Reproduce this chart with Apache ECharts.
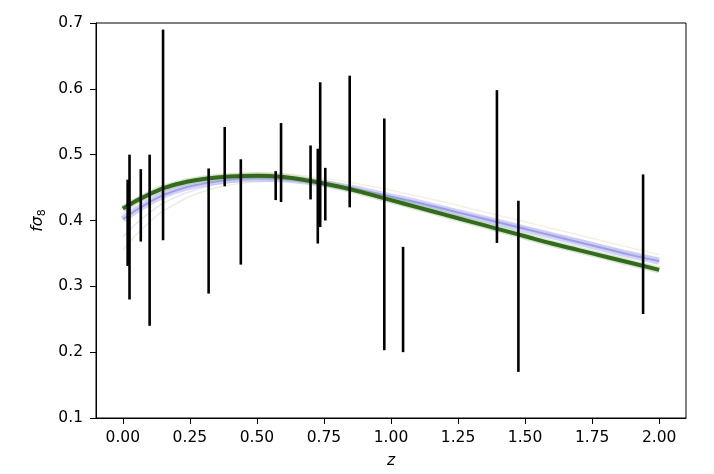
<!DOCTYPE html>
<html>
<head>
<meta charset="utf-8">
<script src="https://cdn.jsdelivr.net/npm/echarts@6/dist/echarts.min.js"></script>
<style>html,body{margin:0;padding:0;background:#fff}#c{width:714px;height:474px}</style>
</head>
<body>
<div id="c"></div>
<script>
// model curves sampled on a z grid
const zGrid = [0,0.1,0.2,0.3,0.4,0.5,0.6,0.7,0.8,0.9,1.0,1.1,1.2,1.3,1.4,1.5,1.6,1.7,1.8,1.9,2.0];
const fsGreen = [0.418,0.440,0.455,0.463,0.467,0.468,0.466,0.460,0.452,0.442,0.431,0.420,0.409,0.398,0.387,0.376,0.365,0.355,0.345,0.335,0.325];
const fsBlue = [0.402,0.428,0.446,0.456,0.462,0.464,0.463,0.459,0.453,0.445,0.436,0.427,0.417,0.407,0.397,0.387,0.377,0.367,0.357,0.347,0.338];
const fsFaintLow1 = [0.355,0.398,0.426,0.444,0.454,0.459,0.460,0.457,0.452,0.445,0.437,0.428,0.419,0.409,0.400,0.390,0.380,0.371,0.361,0.352,0.343];
const fsFaintLow2 = [0.375,0.412,0.436,0.450,0.458,0.462,0.462,0.459,0.453,0.446,0.437,0.428,0.418,0.408,0.398,0.388,0.378,0.368,0.358,0.349,0.340];
const fsFaintUp = [0.410,0.437,0.455,0.465,0.470,0.472,0.471,0.467,0.461,0.454,0.446,0.437,0.428,0.418,0.408,0.398,0.388,0.378,0.368,0.358,0.348];

// observations (error bars)
const zObs = [0.018,0.025,0.067,0.10,0.15,0.32,0.38,0.44,0.57,0.59,0.70,0.727,0.736,0.755,0.846,0.975,1.045,1.395,1.475,1.94];
const fsLo = [0.331,0.280,0.368,0.240,0.370,0.289,0.452,0.333,0.431,0.428,0.432,0.365,0.390,0.400,0.420,0.203,0.200,0.366,0.170,0.258];
const fsHi = [0.462,0.500,0.478,0.500,0.690,0.479,0.542,0.493,0.475,0.548,0.514,0.509,0.610,0.480,0.620,0.555,0.360,0.598,0.430,0.470];

const xTicks = [0,0.25,0.5,0.75,1.0,1.25,1.5,1.75,2.0];

const pair = arr => zGrid.map((z,i)=>[z,arr[i]]);
const curve = (arr,color,width,op) => ({
  type:'line', data:pair(arr), smooth:true, symbol:'none', silent:true,
  lineStyle:{color:color,width:width,opacity:op}, z:2
});

const FS = 15.5;
const chart = echarts.init(document.getElementById('c'), null, {renderer:'canvas'});
chart.setOption({
  animation:false,
  backgroundColor:'#fff',
  textStyle:{fontFamily:'DejaVu Sans'},
  grid:{left:96,right:28,top:23,bottom:56,show:true,borderColor:'#000',borderWidth:1,backgroundColor:'transparent'},
  xAxis:{
    type:'value', min:-0.1, max:2.1,
    name:'z', nameLocation:'middle', nameGap:35,
    nameTextStyle:{fontSize:FS,fontStyle:'italic',color:'#000',fontFamily:'DejaVu Sans'},
    axisLine:{show:true,onZero:false,lineStyle:{color:'#000',width:1}},
    axisTick:{show:true,inside:false,length:6,lineStyle:{color:'#000'},customValues:xTicks},
    axisLabel:{color:'#000',fontSize:FS,margin:12,customValues:xTicks,formatter:v=>v.toFixed(2)},
    splitLine:{show:false}
  },
  yAxis:{
    type:'value', min:0.1, max:0.7, interval:0.1,
    name:'{i|fσ}{s|8}', nameLocation:'middle', nameGap:45, nameRotate:90,
    nameTextStyle:{color:'#000',rich:{i:{fontSize:FS,fontStyle:'italic',fontFamily:'DejaVu Sans',color:'#000'},s:{fontSize:11,verticalAlign:'bottom',padding:[7,0,0,0],fontFamily:'DejaVu Sans',color:'#000'}}},
    axisLine:{show:true,onZero:false,lineStyle:{color:'#000',width:1}},
    axisTick:{show:true,inside:false,length:6,lineStyle:{color:'#000'}},
    axisLabel:{color:'#000',fontSize:FS,margin:13,formatter:v=>v.toFixed(1)},
    splitLine:{show:false}
  },
  series:[
    curve(fsFaintUp,'#e0a060',1.5,0.18),
    curve(fsFaintLow1,'#7aa060',1.5,0.18),
    curve(fsFaintLow2,'#8080d0',1.5,0.2),
    curve(fsBlue,'#a8a8f8',7,0.5),
    curve(fsBlue,'#7070d8',2,0.5),
    curve(fsGreen,'#90b878',7,0.35),
    curve(fsGreen,'#2a6412',4,0.95),
    {
      type:'custom', z:5, silent:true,
      data: zObs.map((z,i)=>[z,fsLo[i],fsHi[i]]),
      encode:{x:0,y:[1,2]},
      renderItem:(params,api)=>{
        const p1 = api.coord([api.value(0),api.value(1)]);
        const p2 = api.coord([api.value(0),api.value(2)]);
        return {type:'line',shape:{x1:p1[0],y1:p1[1],x2:p2[0],y2:p2[1]},style:{stroke:'#000',lineWidth:2.6}};
      }
    }
  ]
});
</script>
</body>
</html>
